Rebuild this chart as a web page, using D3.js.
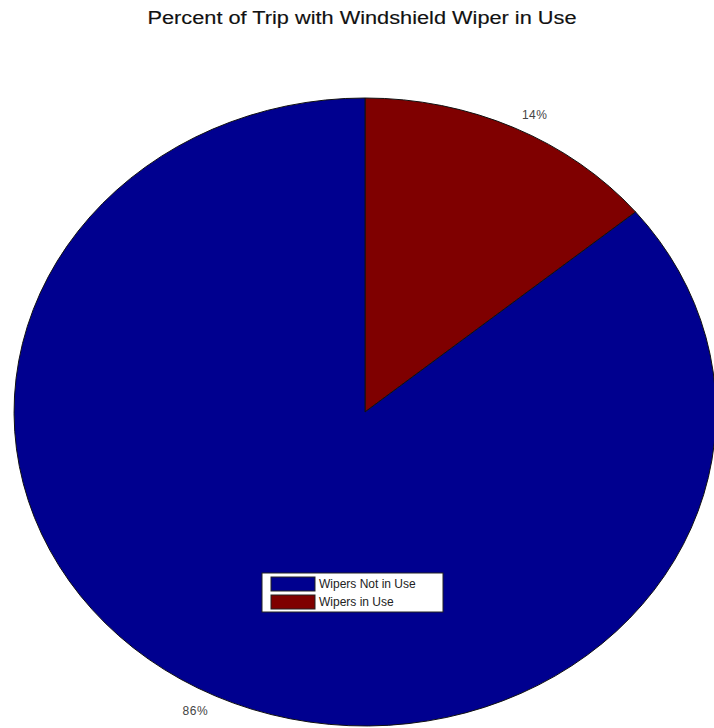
<!DOCTYPE html>
<html><head><meta charset="utf-8">
<script src="https://cdn.jsdelivr.net/npm/d3@7"></script>
<style>html,body{margin:0;padding:0;background:#fff;}svg{display:block;}</style>
</head><body>
<script>
const categories = ["Wipers in Use", "Wipers Not in Use"];
const values = [14, 86];
const labels = ["14%", "86%"];
const legendOrder = ["Wipers Not in Use", "Wipers in Use"];
const colors = ["#7f0000", "#00008f"];
const title = "Percent of Trip with Windshield Wiper in Use";

const W = 714, H = 728;
const cx = 365, cy = 412, rx = 351, ry = 314;

const svg = d3.select("body").append("svg").attr("width", W).attr("height", H);
const color = d3.scaleOrdinal().domain(categories).range(colors);

svg.append("text").attr("x", 362).attr("y", 23.5).attr("text-anchor", "middle")
  .attr("font-family", "Liberation Sans, Arial, sans-serif").attr("font-size", 18)
  .attr("stroke", "#111").attr("stroke-width", 0.15)
  .attr("textLength", 429).attr("lengthAdjust", "spacingAndGlyphs")
  .attr("fill", "#111").text(title);

const pie = d3.pie().sort(null).value(d => d.v);
const arcs = pie(categories.map((c, i) => ({c, v: values[i], l: labels[i]})));
const arc = d3.arc().innerRadius(0).outerRadius(1);

const g = svg.append("g").attr("transform", `translate(${cx},${cy}) scale(${rx},${ry})`);
g.selectAll("path").data(arcs).join("path")
  .attr("d", arc)
  .attr("fill", d => color(d.data.c))
  .attr("stroke", "#111").attr("stroke-width", 1)
  .attr("vector-effect", "non-scaling-stroke");

const lr = 1.05;
svg.selectAll("text.lab").data(arcs).join("text").attr("class", "lab")
  .each(function(d) {
    const a = (d.startAngle + d.endAngle) / 2;
    const x = cx + rx * lr * Math.sin(a), y = cy - ry * lr * Math.cos(a);
    d3.select(this).attr("x", x).attr("y", y + 2)
      .attr("text-anchor", Math.sin(a) >= 0 ? "start" : "end")
      .attr("dominant-baseline", "middle");
  })
  .attr("font-family", "Liberation Sans, Arial, sans-serif").attr("font-size", 12)
  .attr("letter-spacing", 0.5)
  .attr("fill", "#444").text(d => d.data.l);

const lg = svg.append("g").attr("transform", "translate(262,573)");
lg.append("rect").attr("width", 181).attr("height", 39).attr("fill", "#fff").attr("stroke", "#222").attr("stroke-width", 1);
legendOrder.forEach((c, i) => {
  lg.append("rect").attr("x", 9).attr("y", 4 + i * 18).attr("width", 44).attr("height", 14)
    .attr("fill", color(c)).attr("stroke", "#222").attr("stroke-width", 1);
  lg.append("text").attr("x", 57).attr("y", 11.5 + i * 18).attr("dominant-baseline", "middle")
    .attr("font-family", "Liberation Sans, Arial, sans-serif").attr("font-size", 12)
    .attr("fill", "#222").text(c);
});
</script>
</body></html>
